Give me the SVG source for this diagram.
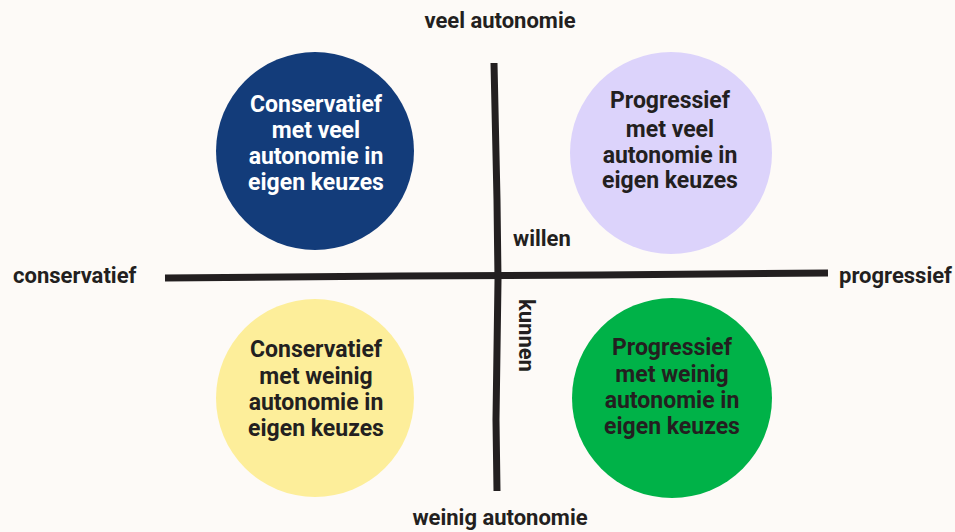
<svg xmlns="http://www.w3.org/2000/svg" width="955" height="532" viewBox="0 0 955 532">
<style>
.lbl{font-family:Roboto,"Liberation Sans",sans-serif;font-weight:700;font-size:22px;fill:#231f20}
.ct{font-family:Roboto,"Liberation Sans",sans-serif;font-weight:700;font-size:23px;text-anchor:middle}
.dark{fill:#231f20}
.light{fill:#ffffff}
.axis{stroke:#231f20;stroke-width:7;stroke-linecap:butt;fill:none}
</style>
<rect width="955" height="532" fill="#fdfaf7"/>
<g id="connectors">
<path class="axis" d="M165 278 L400 276 L600 275 L828 273"/>
<path class="axis" d="M494 63 L497 200 L498 280 L496 420 L497 491"/>
</g>
<g id="axis-labels">
<text class="lbl" x="500" y="28" text-anchor="middle">veel autonomie</text>
<text class="lbl" x="500" y="525" text-anchor="middle">weinig autonomie</text>
<text class="lbl" x="13" y="283">conservatief</text>
<text class="lbl" x="952" y="283" text-anchor="end">progressief</text>
<text class="lbl" x="513" y="246">willen</text>
<text class="lbl" transform="translate(519,299) rotate(90)">kunnen</text>
</g>
<g id="node-conservatief-veel">
<circle cx="315" cy="151" r="99" fill="#133c7a"/>
<text class="ct light" x="316" y="112">Conservatief</text>
<text class="ct light" x="316" y="138">met veel</text>
<text class="ct light" x="316" y="164">autonomie in</text>
<text class="ct light" x="316" y="190">eigen keuzes</text>
</g>
<g id="node-progressief-veel">
<circle cx="671" cy="153" r="101" fill="#dcd3fb"/>
<text class="ct dark" x="670" y="108">Progressief</text>
<text class="ct dark" x="670" y="137">met veel</text>
<text class="ct dark" x="670" y="163">autonomie in</text>
<text class="ct dark" x="670" y="188">eigen keuzes</text>
</g>
<g id="node-conservatief-weinig">
<circle cx="315" cy="398" r="99" fill="#fdee9a"/>
<text class="ct dark" x="316" y="357">Conservatief</text>
<text class="ct dark" x="316" y="384">met weinig</text>
<text class="ct dark" x="316" y="410">autonomie in</text>
<text class="ct dark" x="316" y="436">eigen keuzes</text>
</g>
<g id="node-progressief-weinig">
<circle cx="672" cy="398" r="100" fill="#00b248"/>
<text class="ct dark" x="672" y="355">Progressief</text>
<text class="ct dark" x="672" y="382">met weinig</text>
<text class="ct dark" x="672" y="408">autonomie in</text>
<text class="ct dark" x="672" y="434">eigen keuzes</text>
</g>
</svg>
